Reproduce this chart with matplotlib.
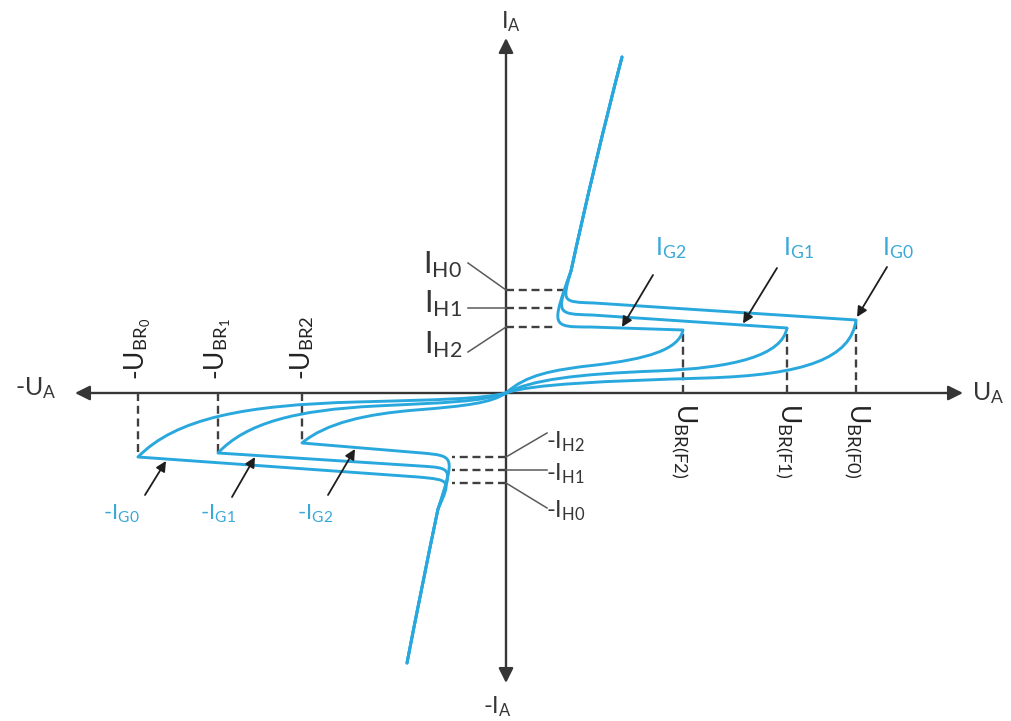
import matplotlib
matplotlib.use('Agg')
import matplotlib.pyplot as plt
from matplotlib.path import Path
from matplotlib.patches import PathPatch

plt.rcParams['font.family'] = 'Lato'
plt.rcParams['mathtext.fontset'] = 'custom'
plt.rcParams['mathtext.rm'] = 'Lato'
plt.rcParams['mathtext.it'] = 'Lato:italic'
plt.rcParams['mathtext.bf'] = 'Lato:bold'

CYAN = '#29a8de'
CYAN_TXT = '#38a9d9'
AXIS = '#363636'
DASH = '#404040'
LEAD = '#5a5a5a'

# ---- quadrant I (positive U_A), gate currents IG0, IG1, IG2 ----
ubr_fwd = [35.0, 28.1, 17.7]          # breakover voltage
ipk_fwd = [7.3, 6.5, 6.3]             # current at breakover
fwd_c1 = [(2.5, 0.9), (2.5, 1.3), (2.0, 1.8)]
fwd_c2 = [(10.0, 1.2), (7.0, 1.9), (4.5, 2.3)]
fwd_sh = [(20.0, 1.5), (15.0, 2.2), (9.0, 2.8)]     # end of flat blocking part
fwd_c3 = [(30.0, 1.8), (23.0, 2.5), (14.0, 3.4)]
fwd_c4 = [(34.5, 3.5), (27.6, 3.8), (17.3, 4.3)]
fwd_run = [(8.8, 9.0), (8.6, 7.8), (8.4, 6.6)]      # end of negative-resistance run
fwd_knee = [(5.6, 9.1), (5.0, 7.9), (4.5, 6.6)]
on_fwd = [(6.5, 12.2), (8.7, 22.4), (11.6, 33.6)]   # on-state: join, ctrl, end
ih_fwd = [10.3, 8.5, 6.6]
ih_fwd_end = [5.7, 5.1, 4.7]

# ---- quadrant III (negative U_A) ----
ubr_rev = [-36.8, -28.8, -20.4]
ipk_rev = [-6.4, -6.0, -5.0]
rev_c1 = [(-2.5, -0.6), (-2.5, -0.9), (-1.5, -1.0)]
rev_c2 = [(-6.2, -0.66), (-6.0, -0.95), (-4.0, -1.3)]
rev_sh = [(-15.0, -0.9), (-13.0, -1.3), (-9.0, -1.7)]
rev_c3 = [(-26.0, -1.2), (-21.0, -1.7), (-14.0, -2.1)]
rev_c4 = [(-33.0, -2.5), (-26.0, -3.0), (-18.0, -3.0)]
rev_run = [(-8.8, -8.4), (-8.6, -7.3), (-8.4, -6.0)]
rev_knee = [(-5.5, -8.7), (-5.3, -7.5), (-5.1, -6.3)]
on_rev = [(-6.8, -11.6), (-8.4, -19.2), (-9.9, -27.0)]
ih_rev = [-9.0, -7.7, -6.4]
ih_rev_end = [-5.4, -5.4, -5.4]

# labels
ih_fwd_txt = [r'I$_{\mathrm{H0}}$', r'I$_{\mathrm{H1}}$', r'I$_{\mathrm{H2}}$']
ih_fwd_base = [12.0, 8.1, 4.0]
ih_fwd_tail = [(-3.8, 13.0), (-3.8, 8.5), (-3.8, 4.1)]
ih_rev_txt = [r'-I$_{\mathrm{H0}}$', r'-I$_{\mathrm{H1}}$', r'-I$_{\mathrm{H2}}$']
ih_rev_base = [-12.4, -8.7, -5.5]
ih_rev_tail = [(4.1, -11.5), (4.1, -7.7), (4.1, -4.0)]

ig_fwd_txt = [r'I$_{\mathrm{G0}}$', r'I$_{\mathrm{G1}}$', r'I$_{\mathrm{G2}}$']
ig_fwd_pos = [(37.6, 13.8), (27.7, 13.8), (14.9, 13.8)]
ig_fwd_tail = [(38.1, 12.6), (27.1, 12.5), (14.7, 11.8)]
ig_fwd_tip = [(35.1, 7.6), (23.7, 6.95), (11.6, 6.6)]
ig_rev_txt = [r'-I$_{\mathrm{G0}}$', r'-I$_{\mathrm{G1}}$', r'-I$_{\mathrm{G2}}$']
ig_rev_pos = [(-40.3, -12.7), (-30.6, -12.7), (-20.9, -12.7)]
ig_rev_tail = [(-36.1, -10.2), (-27.4, -10.4), (-17.8, -10.2)]
ig_rev_tip = [(-34.0, -6.8), (-25.1, -6.4), (-15.1, -5.6)]

ubr_fwd_txt = [r'U$_{\mathrm{BR(F0)}}$', r'U$_{\mathrm{BR(F1)}}$', r'U$_{\mathrm{BR(F2)}}$']
ubr_rev_txt = [r'-U$_{\mathrm{BR_0}}$', r'-U$_{\mathrm{BR_1}}$', r'-U$_{\mathrm{BR2}}$']

fig = plt.figure(figsize=(10.12, 7.21), dpi=100)
ax = fig.add_axes([0, 0, 1, 1])
ax.set_xlim(-50.6, 50.6)
ax.set_ylim(-32.8, 39.3)
ax.axis('off')


def branch(peak, c1, c2, sh, c3, c4, run, knee, on):
    verts = [(0, 0), c1, c2, sh, c3, c4, peak, run, knee, knee, on[0], on[1], on[2]]
    codes = ([Path.MOVETO] + [Path.CURVE4] * 6 + [Path.LINETO]
             + [Path.CURVE4] * 3 + [Path.CURVE3] * 2)
    ax.add_patch(PathPatch(Path(verts, codes), fill=False, ec=CYAN, lw=2.1,
                           capstyle='round', joinstyle='round', zorder=3))


def arrow(tail, tip, color, lw, scale, style='-|>', z=4):
    ax.annotate('', xy=tip, xytext=tail,
                arrowprops=dict(arrowstyle=style, color=color, lw=lw,
                                mutation_scale=scale, shrinkA=0, shrinkB=0),
                zorder=z)


dash = dict(color=DASH, lw=1.7, ls=(0, (3.4, 2.0)), zorder=2)

# breakover markers and holding current levels
for k in range(3):
    ax.plot([ubr_fwd[k], ubr_fwd[k]], [0, ipk_fwd[k]], **dash)
    ax.plot([ubr_rev[k], ubr_rev[k]], [0, ipk_rev[k]], **dash)
    ax.plot([0, ih_fwd_end[k]], [ih_fwd[k], ih_fwd[k]], **dash)
    ax.plot([0, ih_rev_end[k]], [ih_rev[k], ih_rev[k]], **dash)

# characteristic curves
for k in range(3):
    branch((ubr_fwd[k], ipk_fwd[k]), fwd_c1[k], fwd_c2[k], fwd_sh[k], fwd_c3[k],
           fwd_c4[k], fwd_run[k], fwd_knee[k], on_fwd)
    branch((ubr_rev[k], ipk_rev[k]), rev_c1[k], rev_c2[k], rev_sh[k], rev_c3[k],
           rev_c4[k], rev_run[k], rev_knee[k], on_rev)

# coordinate axes
arrow((45.7, 0), (-43.1, 0), AXIS, 1.7, 22, style='<|-|>', z=1)
arrow((0, 35.5), (0, -29.0), AXIS, 1.7, 22, style='<|-|>', z=1)

ax.text(0.5, 36.5, r'I$_{\mathrm{A}}$', fontsize=17, color=AXIS, ha='center', va='baseline')
ax.text(-0.9, -32.0, r'-I$_{\mathrm{A}}$', fontsize=17, color=AXIS, ha='center', va='baseline')
ax.text(-49.1, -0.2, r'-U$_{\mathrm{A}}$', fontsize=18, color=AXIS, ha='left', va='baseline')
ax.text(46.6, -0.7, r'U$_{\mathrm{A}}$', fontsize=18, color=AXIS, ha='left', va='baseline')

# holding current labels with leader lines
for k in range(3):
    ax.text(ih_fwd_tail[k][0] - 0.6, ih_fwd_base[k], ih_fwd_txt[k], fontsize=22,
            color=AXIS, ha='right', va='baseline')
    ax.plot([ih_fwd_tail[k][0], 0], [ih_fwd_tail[k][1], ih_fwd[k]], color=LEAD, lw=1.1)
    ax.text(ih_rev_tail[k][0] - 0.1, ih_rev_base[k], ih_rev_txt[k], fontsize=17,
            color=AXIS, ha='left', va='baseline')
    ax.plot([0, ih_rev_tail[k][0]], [ih_rev[k], ih_rev_tail[k][1]], color=LEAD, lw=1.1)

# gate current labels with arrows
for k in range(3):
    ax.text(*ig_fwd_pos[k], ig_fwd_txt[k], fontsize=18, color=CYAN_TXT,
            ha='left', va='baseline')
    arrow(ig_fwd_tail[k], ig_fwd_tip[k], '#1e1e1e', 1.3, 15)
    ax.text(*ig_rev_pos[k], ig_rev_txt[k], fontsize=16, color=CYAN_TXT,
            ha='left', va='baseline')
    arrow(ig_rev_tail[k], ig_rev_tip[k], '#1e1e1e', 1.3, 15)

# breakover voltage labels
for k in range(3):
    ax.text(ubr_fwd[k], -1.0, ubr_fwd_txt[k], fontsize=19, color='#222222',
            rotation=-90, ha='center', va='top')
    ax.text(ubr_rev[k], 1.3, ubr_rev_txt[k], fontsize=19, color='#222222',
            rotation=90, ha='center', va='bottom')

fig.savefig('out.png', dpi=100)
